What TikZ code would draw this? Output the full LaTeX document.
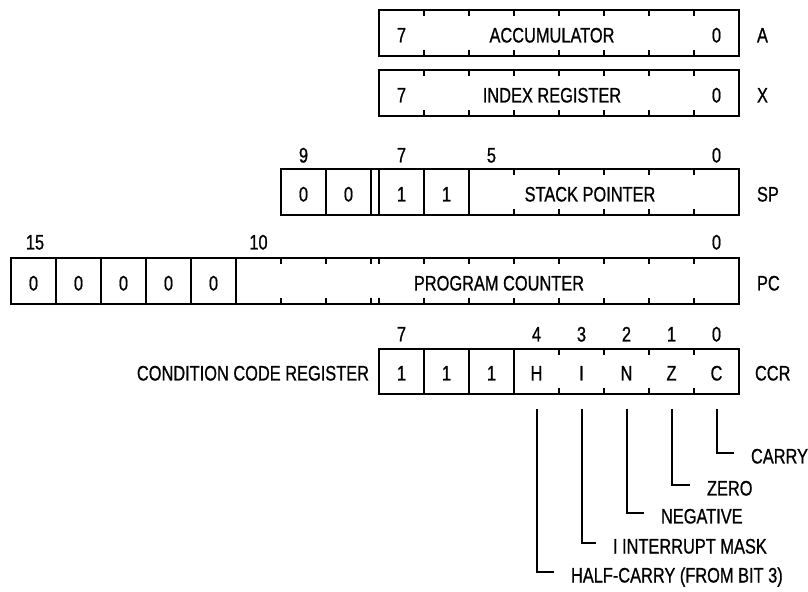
\documentclass[tikz,border=0pt]{standalone}
\usepackage{fontspec}
\setmainfont{Liberation Sans}[FakeStretch=0.78, FakeBold=0.8]
\usepackage{tikz}

\begin{document}
\begin{tikzpicture}[x=0.5pt, y=-0.5pt, line width=1pt,
    every node/.style={font=\fontsize{10.5}{12}\selectfont},
    bit/.style={inner sep=0pt, text height=7.5pt, text depth=0pt},
    regname/.style={bit, anchor=west},
    descr/.style={anchor=west, inner sep=0pt, text height=10.5pt, text depth=0pt}]
    \useasboundingbox (0,0) rectangle (808,592);

    \foreach \y/\m/\r/\n in {
        10/ACCUMULATOR/A/acc, 70/INDEX REGISTER/X/idx}
        {
        \draw (379,\y) rectangle (739,\y+46);
        \foreach \x in {424,469,...,694}
            \draw (\x,\y) -- ++(0,6) (\x,\y+46) -- ++(0,-6);
        \node[bit] (\n7) at (401.5,\y+25) {7};
        \node[bit] (\n0) at (716.5,\y+25) {0};
        \node[bit] (\n) at (552,\y+25) {\m};
        \node[regname] (\n name) at (756,\y+25) {\r};
        }

    % stack pointer
    \draw (281,169) rectangle (739,215);
    \foreach \x in {326,371,379,424,469}
        \draw (\x,169) -- (\x,215);
    \foreach \x in {514,559,...,694}
        \draw (\x,169) -- ++(0,6) (\x,215) -- ++(0,-6);
    \foreach \x/\m/\n in {
        303.5/0/a, 348.5/0/b, 401.5/1/c, 446.5/1/d}
        \node[bit] (sp\n) at (\x,194) {\m};
    \node[bit] (sp) at (590,194) {STACK POINTER};
    \node[regname] (spname) at (756,194) {SP};
    \foreach \x/\m in {303.5/9, 401.5/7, 491.5/5, 716.5/0}
        \node[bit] (spbit\m) at (\x,155) {\m};

    % program counter
    \draw (11,258) rectangle (739,304);
    \foreach \x in {56,101,146,191,236}
        \draw (\x,258) -- (\x,304);
    \foreach \x in {281,326,371,379,424,469,...,694}
        \draw (\x,258) -- ++(0,6) (\x,304) -- ++(0,-6);
    \foreach \x/\n in {
        33.5/15, 78.5/14, 123.5/13, 168.5/12, 213.5/11}
        \node[bit] (pc\n) at (\x,283) {0};
    \node[bit] (pc) at (499,283) {PROGRAM COUNTER};
    \node[regname] (pcname) at (756,283) {PC};
    \foreach \x/\m in {35/15, 258.5/10, 716.5/0}
        \node[bit] (pcbit\m) at (\x,242) {\m};

    % condition code register
    \draw (379,349) rectangle (739,394);
    \foreach \x in {424,469,514}
        \draw (\x,349) -- (\x,394);
    \foreach \x in {559,604,649,694}
        \draw (\x,349) -- ++(0,6) (\x,394) -- ++(0,-6);
    \foreach \x/\m/\n in {
        401.5/1/a, 446.5/1/b, 491.5/1/c,
        536.5/H/H, 581.5/I/I, 626.5/N/N, 671.5/Z/Z, 716.5/C/C}
        \node[bit] (ccr\n) at (\x,373) {\m};
    \node[bit, anchor=east] (ccr) at (370,373) {CONDITION CODE REGISTER};
    \node[regname] (ccrname) at (754,373) {CCR};
    \foreach \x/\m in {
        401.5/7, 536.5/4, 581.5/3, 626.5/2, 671.5/1, 716.5/0}
        \node[bit] (ccrbit\m) at (\x,334) {\m};

    \foreach \x/\y/\tx/\m/\n in {
        716.5/453/750/CARRY/C,
        671.5/485/706/ZERO/Z,
        626.5/513/660/NEGATIVE/N,
        581.5/543/612/I INTERRUPT MASK/I,
        536.5/572/570/HALF-CARRY (FROM BIT 3)/H}
        {
        \coordinate (tap\n) at (\x,409);
        \node[descr] (desc\n) at (\tx,\y) {\m};
        \draw (tap\n) |- ([xshift=-8pt]desc\n.west);
        }
\end{tikzpicture}
\end{document}
